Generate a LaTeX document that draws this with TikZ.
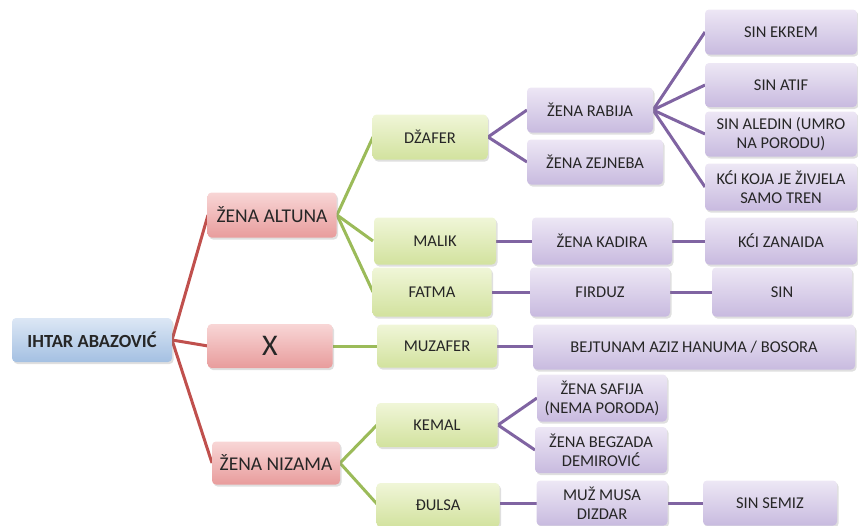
\documentclass[tikz,border=0pt]{standalone}
\usepackage{fontspec}
\setmainfont{Carlito}
\usepackage{tikz}
\usetikzlibrary{shadows}

\definecolor{rootTop}{HTML}{DCE7F5}
\definecolor{rootBot}{HTML}{A4C0E2}
\definecolor{redTop}{HTML}{F8D6D6}
\definecolor{redBot}{HTML}{E89C9C}
\definecolor{greenTop}{HTML}{F0F6D8}
\definecolor{greenBot}{HTML}{D2E29E}
\definecolor{purpleTop}{HTML}{EDE7F5}
\definecolor{purpleBot}{HTML}{C8BADF}
\definecolor{redLine}{HTML}{C0504D}
\definecolor{greenLine}{HTML}{9BBB59}
\definecolor{purpleLine}{HTML}{8064A2}

\begin{document}
\begin{tikzpicture}[
        x=1pt, y=-1pt,
        every node/.style={rounded corners=4pt, align=center, inner sep=2pt,
            font=\fontsize{16.5}{19}\selectfont, text=black!85,
            drop shadow={opacity=0.25, shadow xshift=1.5pt, shadow yshift=-2pt}},
        rootbox/.style={top color=rootTop, bottom color=rootBot, font=\fontsize{18.5}{21}\selectfont\bfseries},
        redbox/.style={top color=redTop, bottom color=redBot, font=\fontsize{19.5}{22}\selectfont},
        greenbox/.style={top color=greenTop, bottom color=greenBot},
        purplebox/.style={top color=purpleTop, bottom color=purpleBot},
        redline/.style={draw=redLine, line width=3pt},
        greenline/.style={draw=greenLine, line width=3pt},
        purpleline/.style={draw=purpleLine, line width=3pt}
    ]
    \useasboundingbox (0,0) rectangle (858,525);

    % Edges (drawn first, boxes on top)
    \coordinate (rootE) at (172,340);
    \coordinate (altunaE) at (337,215);
    \coordinate (nizamaE) at (340,463);
    \coordinate (dzaferE) at (488,137);
    \coordinate (rabijaE) at (653,110);
    \coordinate (kemalE) at (498,425);

    \draw[redline] (rootE) -- (208,215) coordinate (altunaW);
    \draw[redline] (rootE) -- (208,346) coordinate (xW);
    \draw[redline] (rootE) -- (212,463) coordinate (nizamaW);

    \draw[greenline] (altunaE) -- (373,137) coordinate (dzaferW);
    \draw[greenline] (altunaE) -- (373,241) coordinate (malikW);
    \draw[greenline] (altunaE) -- (373,292) coordinate (fatmaW);
    \draw[greenline] (333,346) -- (377,346) coordinate (muzaferW);
    \draw[greenline] (nizamaE) -- (377,425) coordinate (kemalW);
    \draw[greenline] (nizamaE) -- (377,504) coordinate (dulsaW);

    \draw[purpleline] (dzaferE) -- (527,110);
    \draw[purpleline] (dzaferE) -- (527,162);
    \draw[purpleline] (rabijaE) -- (705,32);
    \draw[purpleline] (rabijaE) -- (705,85);
    \draw[purpleline] (rabijaE) -- (705,134);
    \draw[purpleline] (rabijaE) -- (705,187);
    \draw[purpleline] (496,241) -- (532,241);
    \draw[purpleline] (672,241) -- (705,241);
    \draw[purpleline] (492,292) -- (530,292);
    \draw[purpleline] (670,292) -- (712,292);
    \draw[purpleline] (497,346) -- (533,346);
    \draw[purpleline] (kemalE) -- (537,398);
    \draw[purpleline] (kemalE) -- (535,450);
    \draw[purpleline] (500,503) -- (537,503);
    \draw[purpleline] (668,503) -- (703,503);

    % Nodes
    \node[rootbox, minimum width=160, minimum height=44] (root) at (92,340) {IHTAR ABAZOVIĆ};

    \node[redbox, minimum width=129, minimum height=45] (altuna) at (272,215) {ŽENA ALTUNA};
    \node[redbox, minimum width=125, minimum height=44, font=\fontsize{30}{32}\selectfont] (x) at (270,346) {X};
    \node[redbox, minimum width=128, minimum height=43] (nizama) at (276,463) {ŽENA NIZAMA};

    \node[greenbox, minimum width=115, minimum height=45] (dzafer) at (430,137) {DŽAFER};
    \node[greenbox, minimum width=122, minimum height=47] (malik) at (435,241) {MALIK};
    \node[greenbox, minimum width=119, minimum height=49] (fatma) at (432,292) {FATMA};
    \node[greenbox, minimum width=120, minimum height=43] (muzafer) at (437,346) {MUZAFER};
    \node[greenbox, minimum width=121, minimum height=44] (kemal) at (437,425) {KEMAL};
    \node[greenbox, minimum width=123, minimum height=44] (dulsa) at (438,505) {ĐULSA};

    \node[purplebox, minimum width=126, minimum height=45] (rabija) at (590,110) {ŽENA RABIJA};
    \node[purplebox, minimum width=136, minimum height=45] (zejneba) at (595,162) {ŽENA ZEJNEBA};
    \node[purplebox, minimum width=140, minimum height=47] (kadira) at (602,241) {ŽENA KADIRA};
    \node[purplebox, minimum width=140, minimum height=49] (firduz) at (600,292) {FIRDUZ};
    \node[purplebox, minimum width=322, minimum height=45] (bejtunam) at (694,347) {BEJTUNAM AZIZ HANUMA / BOSORA};
    \node[purplebox, minimum width=130, minimum height=47] (safija) at (602,398) {ŽENA SAFIJA\\(NEMA PORODA)};
    \node[purplebox, minimum width=132, minimum height=46] (begzada) at (601,450) {ŽENA BEGZADA\\DEMIROVIĆ};
    \node[purplebox, minimum width=131, minimum height=45] (musa) at (602,503) {MUŽ MUSA\\DIZDAR};

    \node[purplebox, minimum width=152, minimum height=45] (ekrem) at (781,32) {SIN EKREM};
    \node[purplebox, minimum width=152, minimum height=44] (atif) at (781,85) {SIN ATIF};
    \node[purplebox, minimum width=152, minimum height=45] (aledin) at (781,134) {SIN ALEDIN (UMRO\\NA PORODU)};
    \node[purplebox, minimum width=152, minimum height=47] (kci) at (781,187) {KĆI KOJA JE ŽIVJELA\\SAMO TREN};
    \node[purplebox, minimum width=152, minimum height=47] (zanaida) at (781,241) {KĆI ZANAIDA};
    \node[purplebox, minimum width=140, minimum height=49] (sin) at (782,292) {SIN};
    \node[purplebox, minimum width=134, minimum height=45] (semiz) at (770,503) {SIN SEMIZ};

\end{tikzpicture}
\end{document}
